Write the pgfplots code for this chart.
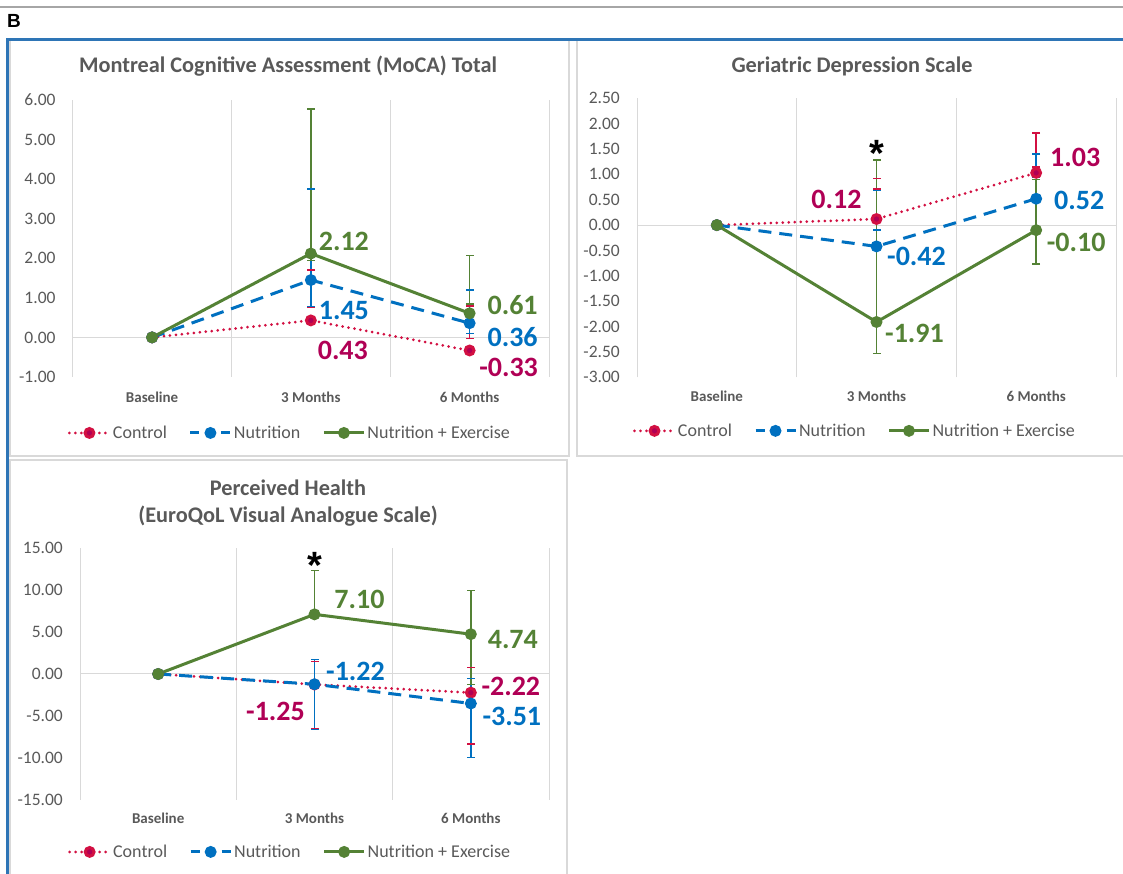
\documentclass[border=0pt]{standalone}
\usepackage{fontspec}
\setmainfont{Carlito}
\newfontfamily\arialfont{Liberation Sans}
\usepackage{pgfplots}
\pgfplotsset{compat=1.18}

\definecolor{txtc}{RGB}{89,89,89}
\definecolor{gridc}{RGB}{217,217,217}
\definecolor{ctrlc}{RGB}{210,16,66}
\definecolor{ctrlm}{RGB}{176,0,85}
\definecolor{bluec}{RGB}{0,112,192}
\definecolor{greenc}{RGB}{84,130,53}
\definecolor{framec}{RGB}{46,117,182}

\pgfplotsset{
  panel/.style={
    scale only axis, clip=false,
    xmin=-0.5, xmax=2.5,
    xtick={0,1,2}, xticklabels={Baseline,3 Months,6 Months},
    minor xtick={-0.5,0.5,1.5,2.5}, xminorgrids,
    minor grid style={draw=gridc, line width=1pt},
    axis line style={draw=none},
    major tick length=0pt, minor tick length=0pt,
    xticklabel style={font=\bfseries\fontsize{15}{16}\selectfont, text=txtc, anchor=center},
    yticklabel style={font=\fontsize{17.5}{18}\selectfont, text=txtc, anchor=east, inner sep=0pt, xshift=-17pt},
    legend columns=3,
    legend style={draw=none, fill=none, anchor=center, font=\fontsize{18}{19}\selectfont, text=txtc,
      /tikz/every even column/.append style={column sep=20pt}},
    legend image code/.code={\draw[mark repeat=2,mark phase=2,##1] plot coordinates {(0pt,0pt) (20pt,0pt) (40pt,0pt)};},
  },
  ctrl/.style={color=ctrlc, line width=3pt, line cap=round, dash pattern=on 0pt off 6pt,
    mark=*, mark size=4.4pt, mark options={solid, draw=none, fill=ctrlm}},
  nutr/.style={color=bluec, line width=3pt, dash pattern=on 13pt off 8pt,
    mark=*, mark size=4.4pt, mark options={solid, draw=none, fill=bluec},
    legend image post style={dash pattern=on 9pt off 22pt}},
  nex/.style={color=greenc, line width=3pt,
    mark=*, mark size=4.4pt, mark options={solid, draw=none, fill=greenc}},
  ebar/.style={forget plot, line width=1.5pt, solid, mark=-, mark size=4pt},
}
\tikzset{
  lab/.style={font=\bfseries\fontsize{28}{30}\selectfont, inner sep=0pt, anchor=center},
  ttl/.style={font=\bfseries\fontsize{22.3}{24}\selectfont, text=txtc, inner sep=0pt, anchor=center},
  star/.style={font=\arialfont\bfseries\fontsize{38}{38}\selectfont, inner sep=0pt, anchor=base, yshift=-22pt},
}

\begin{document}
\begin{tikzpicture}
\useasboundingbox (0pt,0pt) rectangle (1123pt,874pt);

% page rule, panel letter and panel boxes
\draw[gray!70, line width=1.5pt] (0pt,867pt) -- (1123pt,867pt);
\node[font=\arialfont\bfseries\fontsize{19}{20}\selectfont, inner sep=0pt] at (14pt,853pt) {B};
\draw[gridc, line width=1.2pt] (10pt,418pt) rectangle (569pt,834pt);
\draw[gridc, line width=1.2pt] (577pt,418pt) rectangle (1126pt,834pt);
\draw[gridc, line width=1.2pt] (10pt,-5pt) rectangle (567pt,414pt);
\draw[framec, line width=3pt] (7pt,-2pt) -- (7pt,834pt) -- (1126pt,834pt);

% ---------- MoCA total ----------
\node[ttl] at (288pt,808pt) {Montreal Cognitive Assessment (MoCA) Total};
\begin{axis}[panel, at={(72.7pt,497pt)}, anchor=south west, width=476.3pt, height=277pt,
  ymin=-1, ymax=6, ytick={-1,0,...,6},
  yticklabels={-1.00,0.00,1.00,2.00,3.00,4.00,5.00,6.00},
  xticklabel style={yshift=-20pt},
  legend style={at={(0.456,-0.202)}}]
\draw[gridc, line width=1pt] (axis cs:-0.5,0) -- (axis cs:2.5,0);
% confidence bars
\addplot[ebar, ctrlc] coordinates {(1,0.76) (1,1.70)};
\addplot[ebar, ctrlc] coordinates {(2,-0.03) (2,0.80)};
\addplot[ebar, bluec] coordinates {(1,0.78) (1,3.75)};
\addplot[ebar, bluec] coordinates {(2,0.10) (2,1.20)};
\addplot[ebar, greenc] coordinates {(1,1.95) (1,5.77)};
\addplot[ebar, greenc] coordinates {(2,0.84) (2,2.07)};
% group means
\addplot[ctrl] coordinates {(0,0) (1,0.43) (2,-0.33)};
\addplot[nutr] coordinates {(0,0) (1,1.45) (2,0.36)};
\addplot[nex] coordinates {(0,0) (1,2.12) (2,0.61)};
\legend{Control, Nutrition, Nutrition + Exercise}
\node[lab, text=greenc, xshift=33pt, yshift=12pt] at (axis cs:1,2.12) {2.12};
\node[lab, text=bluec, xshift=33pt, yshift=-30pt] at (axis cs:1,1.45) {1.45};
\node[lab, text=ctrlm, xshift=32pt, yshift=-30pt] at (axis cs:1,0.43) {0.43};
\node[lab, text=greenc, xshift=43pt, yshift=8pt] at (axis cs:2,0.61) {0.61};
\node[lab, text=bluec, xshift=43pt, yshift=-13.5pt] at (axis cs:2,0.36) {0.36};
\node[lab, text=ctrlm, xshift=39pt, yshift=-17pt] at (axis cs:2,-0.33) {-0.33};
\end{axis}

% ---------- Geriatric Depression Scale ----------
\node[ttl] at (852pt,808pt) {Geriatric Depression Scale};
\begin{axis}[panel, at={(637pt,496.7pt)}, anchor=south west, width=479pt, height=279pt,
  ymin=-3, ymax=2.5, ytick={-3,-2.5,...,2.5},
  yticklabels={-3.00,-2.50,-2.00,-1.50,-1.00,-0.50,0.00,0.50,1.00,1.50,2.00,2.50},
  xticklabel style={yshift=-19pt},
  legend style={at={(0.455,-0.192)}}]
\draw[gridc, line width=1pt] (axis cs:-0.5,0) -- (axis cs:2.5,0);
\addplot[ebar, ctrlc] coordinates {(1,0.71) (1,0.92)};
\addplot[ebar, ctrlc] coordinates {(2,1.15) (2,1.82)};
\addplot[ebar, bluec] coordinates {(1,-0.10) (1,0.68)};
\addplot[ebar, bluec] coordinates {(2,0.95) (2,1.40)};
\addplot[ebar, greenc] coordinates {(1,-2.53) (1,1.28)};
\addplot[ebar, greenc] coordinates {(2,-0.77) (2,0.90)};
\addplot[ctrl] coordinates {(0,0) (1,0.12) (2,1.03)};
\addplot[nutr] coordinates {(0,0) (1,-0.42) (2,0.52)};
\addplot[nex] coordinates {(0,0) (1,-1.91) (2,-0.10)};
\legend{Control, Nutrition, Nutrition + Exercise}
\node[star] at (axis cs:1,1.58) {*};
\node[lab, text=ctrlm, xshift=-40pt, yshift=20pt] at (axis cs:1,0.12) {0.12};
\node[lab, text=bluec, xshift=40pt, yshift=-10pt] at (axis cs:1,-0.42) {-0.42};
\node[lab, text=greenc, xshift=38pt, yshift=-11pt] at (axis cs:1,-1.91) {-1.91};
\node[lab, text=ctrlm, xshift=39pt, yshift=15pt] at (axis cs:2,1.03) {1.03};
\node[lab, text=bluec, xshift=43pt, yshift=-1.5pt] at (axis cs:2,0.52) {0.52};
\node[lab, text=greenc, xshift=40pt, yshift=-12pt] at (axis cs:2,-0.10) {-0.10};
\end{axis}

% ---------- EuroQoL VAS ----------
\node[ttl] at (288pt,386pt) {Perceived Health};
\node[ttl] at (288pt,358pt) {(EuroQoL Visual Analogue Scale)};
\begin{axis}[panel, at={(80pt,74pt)}, anchor=south west, width=469pt, height=252pt,
  ymin=-15, ymax=15, ytick={-15,-10,...,15},
  yticklabels={-15.00,-10.00,-5.00,0.00,5.00,10.00,15.00},
  xticklabel style={yshift=-18pt},
  legend style={at={(0.448,-0.206)}}]
\draw[gridc, line width=1pt] (axis cs:-0.5,0) -- (axis cs:2.5,0);
\addplot[ebar, ctrlc] coordinates {(1,-6.47) (1,1.47)};
\addplot[ebar, ctrlc] coordinates {(2,-8.34) (2,0.80)};
\addplot[ebar, bluec] coordinates {(1,-6.59) (1,1.75)};
\addplot[ebar, bluec] coordinates {(2,-9.97) (2,-0.56)};
\addplot[ebar, greenc] coordinates {(1,6.85) (1,12.35)};
\addplot[ebar, greenc] coordinates {(2,-1.23) (2,9.95)};
\addplot[ctrl] coordinates {(0,0) (1,-1.25) (2,-2.22)};
\addplot[nutr] coordinates {(0,0) (1,-1.22) (2,-3.51)};
\addplot[nex] coordinates {(0,0) (1,7.10) (2,4.74)};
\legend{Control, Nutrition, Nutrition + Exercise}
\node[star] at (axis cs:1,13.93) {*};
\node[lab, text=greenc, xshift=45pt, yshift=15pt] at (axis cs:1,7.10) {7.10};
\node[lab, text=greenc, xshift=42pt, yshift=-5pt] at (axis cs:2,4.74) {4.74};
\node[lab, text=bluec, xshift=41pt, yshift=13pt] at (axis cs:1,-1.22) {-1.22};
\node[lab, text=ctrlm, xshift=-39pt, yshift=-27pt] at (axis cs:1,-1.25) {-1.25};
\node[lab, text=ctrlm, xshift=40pt, yshift=6pt] at (axis cs:2,-2.22) {-2.22};
\node[lab, text=bluec, xshift=41pt, yshift=-13pt] at (axis cs:2,-3.51) {-3.51};
\end{axis}
\end{tikzpicture}
\end{document}
